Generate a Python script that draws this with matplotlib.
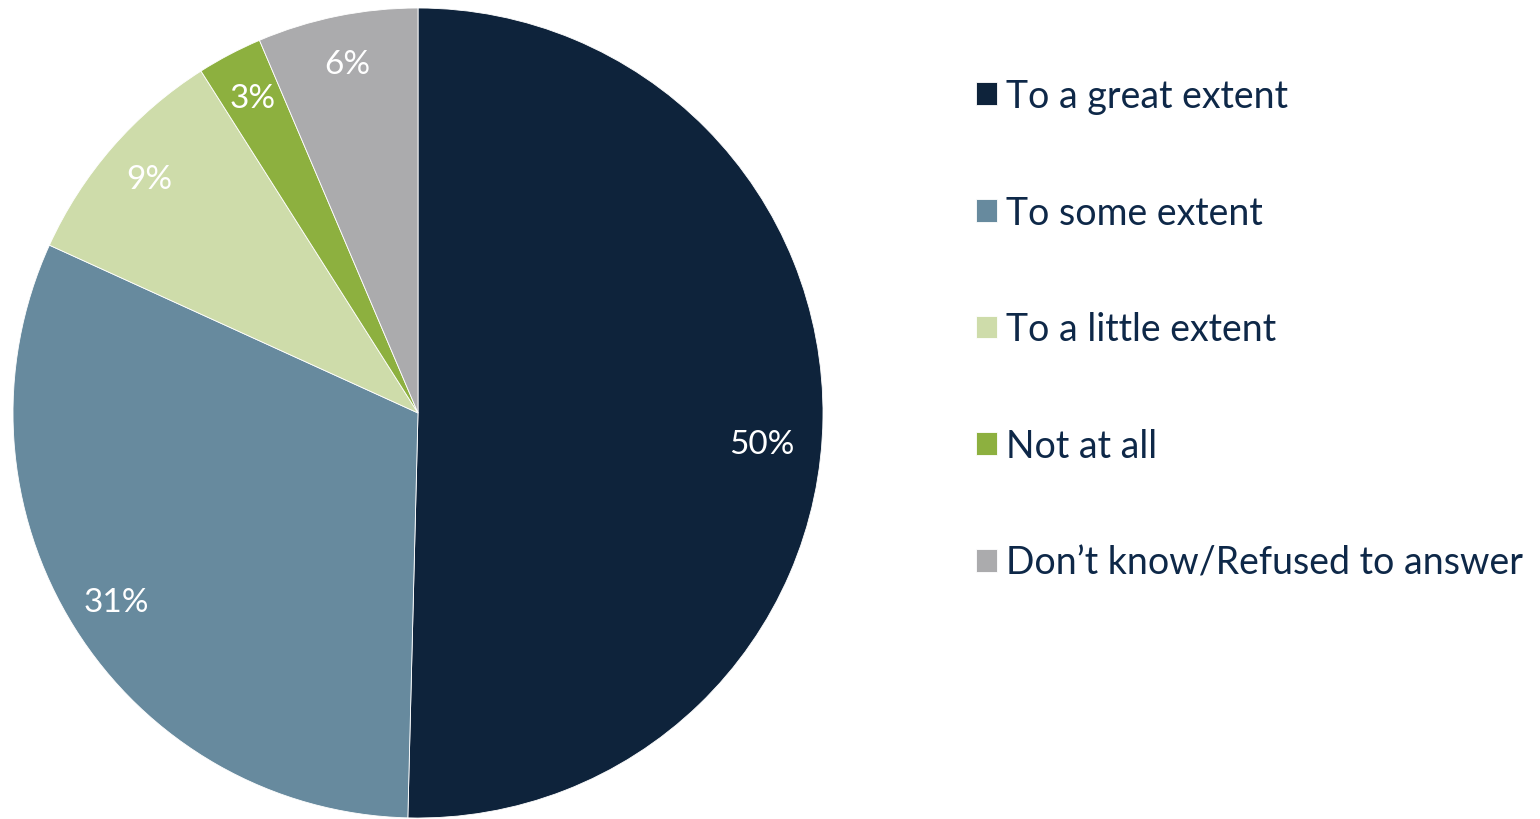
import matplotlib
matplotlib.use("Agg")
import matplotlib.pyplot as plt
import numpy as np

categories = ["To a great extent", "To some extent", "To a little extent",
              "Not at all", "Don\u2019t know/Refused to answer"]
values = [50.4, 31.4, 9.2, 2.6, 6.4]
value_labels = ["50%", "31%", "9%", "3%", "6%"]
colors = ["#0E233B", "#678A9E", "#CEDCAA", "#8DB03F", "#ABABAD"]
text_color = "#0E2848"

plt.rcParams['font.family'] = ['Lato', 'DejaVu Sans']

W, H = 1540, 820
fig = plt.figure(figsize=(W / 100, H / 100), dpi=100)
fig.patch.set_facecolor("white")

cx, cy, R = 418, 406, 405
ax = fig.add_axes([(cx - R) / W, (cy - R) / H, 2 * R / W, 2 * R / H])

wedges, _ = ax.pie(values, colors=colors, startangle=90, counterclock=False,
                   radius=1.0, wedgeprops=dict(edgecolor="white", linewidth=0.6))
ax.set_xlim(-1, 1)
ax.set_ylim(-1, 1)
ax.set_aspect("equal")
ax.axis("off")

theta = 90.0
total = sum(values)
for i, (v, lab) in enumerate(zip(values, value_labels)):
    ang = theta - (v / total * 360) / 2
    theta -= v / total * 360
    r = 0.88
    x, y = r * np.cos(np.radians(ang)), r * np.sin(np.radians(ang))
    if i == 0:
        x, y = 0.85, -0.077
    ax.text(x, y, lab, ha="center", va="center", color="white", fontsize=24)

leg = fig.legend(wedges, categories, loc="upper left",
                 bbox_to_anchor=(976 / W, 1 - 79 / H), frameon=False,
                 fontsize=27, handlelength=0.55, handleheight=0.55,
                 handletextpad=0.25, labelspacing=2.15, borderaxespad=0,
                 borderpad=0)
for t in leg.get_texts():
    t.set_color(text_color)

fig.savefig("out.png", dpi=100)
